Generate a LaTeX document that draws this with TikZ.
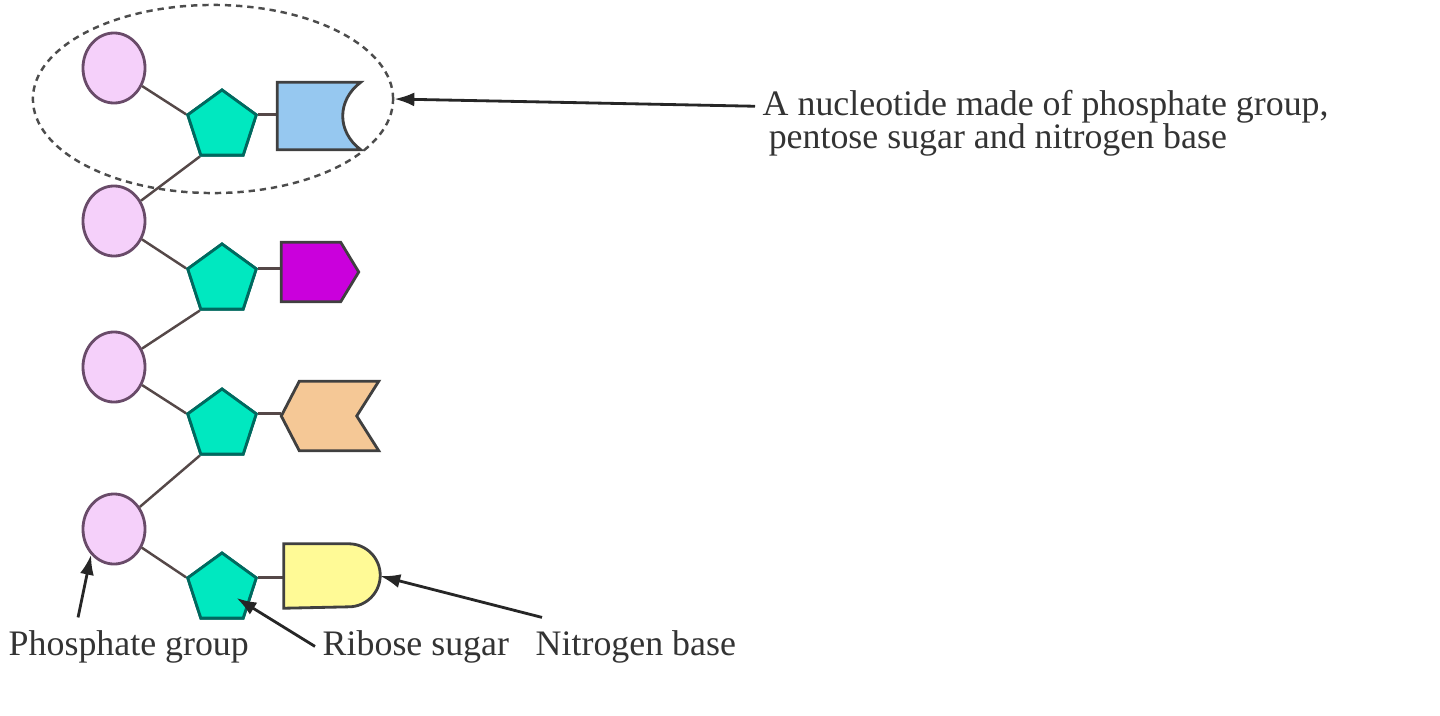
\documentclass[tikz,border=0pt]{standalone}
\usepackage{fontspec}
\setmainfont{Liberation Serif}
\usetikzlibrary{shapes.geometric,arrows.meta}

\definecolor{phosfill}{RGB}{245,208,250}
\definecolor{phosline}{RGB}{105,75,105}
\definecolor{sugarfill}{RGB}{0,232,192}
\definecolor{sugarline}{RGB}{0,105,95}
\definecolor{bluefill}{RGB}{150,200,240}
\definecolor{purplefill}{RGB}{202,0,220}
\definecolor{orangefill}{RGB}{245,200,150}
\definecolor{yellowfill}{RGB}{255,250,150}
\definecolor{linkcol}{RGB}{85,72,72}

\begin{document}
\begin{tikzpicture}[x=0.01cm, y=-0.01cm,
	phos/.style={ellipse, draw=phosline, fill=phosfill, thick, minimum width=0.62cm, minimum height=0.7cm, inner sep=0pt},
	sugar/.style={regular polygon, regular polygon sides=5, draw=sugarline, fill=sugarfill, thick, minimum size=0.72cm, inner sep=0pt},
	basebox/.style={inner sep=0pt},
	baseline/.style={draw=black!75, thick},
	link/.style={draw=linkcol, line width=0.7pt},
	arr/.style={-{Latex[length=0.2cm,width=0.14cm]}, line width=0.8pt, black!85},
	lbl/.style={font=\fontsize{10.2}{12}\selectfont, text=black!80, inner xsep=2pt, inner ysep=0pt}]
	\useasboundingbox (0,0) rectangle (1440,715);

	\node at (213,99) [ellipse, draw=black!70, dashed, dash pattern=on 1.8pt off 1.4pt, line width=0.7pt, minimum width=3.6cm, minimum height=1.88cm] (grp) {};

	\node at (114,68) [phos] (c1) {};
	\node at (114,221) [phos] (c2) {};
	\node at (114,367) [phos] (c3) {};
	\node at (114,529) [phos] (c4) {};
	\node at (222,126) [sugar] (s1) {};
	\node at (222,280) [sugar] (s2) {};
	\node at (222,425) [sugar] (s3) {};
	\node at (222,589) [sugar] (s4) {};
	\node at (319,116) [basebox, minimum width=0.82cm, minimum height=0.66cm] (b1) {};
	\node at (320,272) [basebox, minimum width=0.76cm, minimum height=0.58cm] (b2) {};
	\node at (330,416) [basebox, minimum width=0.96cm, minimum height=0.68cm] (b3) {};
	\node at (332,576) [basebox, minimum width=0.95cm, minimum height=0.63cm] (b4) {};

	\node at (755,115) [lbl, anchor=base west] (n1) {A nucleotide made of phosphate group,};
	\node at (761,148) [lbl, anchor=base west] (n2) {pentose sugar and nitrogen base};
	\node at (1,655) [lbl, anchor=base west] (lp) {Phosphate group};
	\node at (315,655) [lbl, anchor=base west] (lr) {Ribose sugar};
	\node at (528,655) [lbl, anchor=base west] (ln) {Nitrogen base};

	% backbone
	\draw [link] (c1) -- (s1.corner 2);
	\draw [link] (s1.corner 3) -- (c2);
	\draw [link] (c2) -- (s2.corner 2);
	\draw [link] (s2.corner 3) -- (c3);
	\draw [link] (c3) -- (s3.corner 2);
	\draw [link] (s3.corner 3) -- (c4);
	\draw [link] (c4) -- (s4.corner 2);
	\draw [link] (s1.corner 5) -- (s1.corner 5 -| b1.west);
	\draw [link] (s2.corner 5) -- (s2.corner 5 -| b2.west);
	\draw [link] (s3.corner 5) -- (s3.corner 5 -| b3.west);
	\draw [link] (s4.corner 5) -- (s4.corner 5 -| b4.west);
	\foreach \s in {s1,s2,s3,s4} \node at (\s) [sugar] {};

	% bases
	\draw [baseline, fill=bluefill] (b1.north west) -- (b1.north east) .. controls ([xshift=-0.24cm,yshift=-0.18cm]b1.north east) and ([xshift=-0.24cm,yshift=0.18cm]b1.south east) .. (b1.south east) -- (b1.south west) -- cycle;
	\draw [baseline, fill=purplefill] (b2.north west) -- ([xshift=-0.18cm]b2.north east) -- (b2.east) -- ([xshift=-0.18cm]b2.south east) -- (b2.south west) -- cycle;
	\draw [baseline, fill=orangefill] (b3.west) -- ([xshift=0.18cm]b3.north west) -- (b3.north east) -- ([xshift=-0.22cm]b3.east) -- (b3.south east) -- ([xshift=0.18cm]b3.south west) -- cycle;
	\draw [baseline, fill=yellowfill] (b4.north west) -- ([xshift=-0.315cm]b4.north east) arc [start angle=90, end angle=-90, radius=0.315cm] -- (b4.south west) -- cycle;

	% labels
	\draw [arr] (n1.west) -- (grp.east);
	\draw [arr] ([xshift=0.77cm,yshift=0.12cm]lp.north west) -- (c4.south west);
	\draw [arr, shorten >=0.17cm] (lr.west) -- (s4.center);
	\draw [arr] ([xshift=0.14cm,yshift=0.12cm]ln.north west) -- (b4.east);
\end{tikzpicture}
\end{document}
